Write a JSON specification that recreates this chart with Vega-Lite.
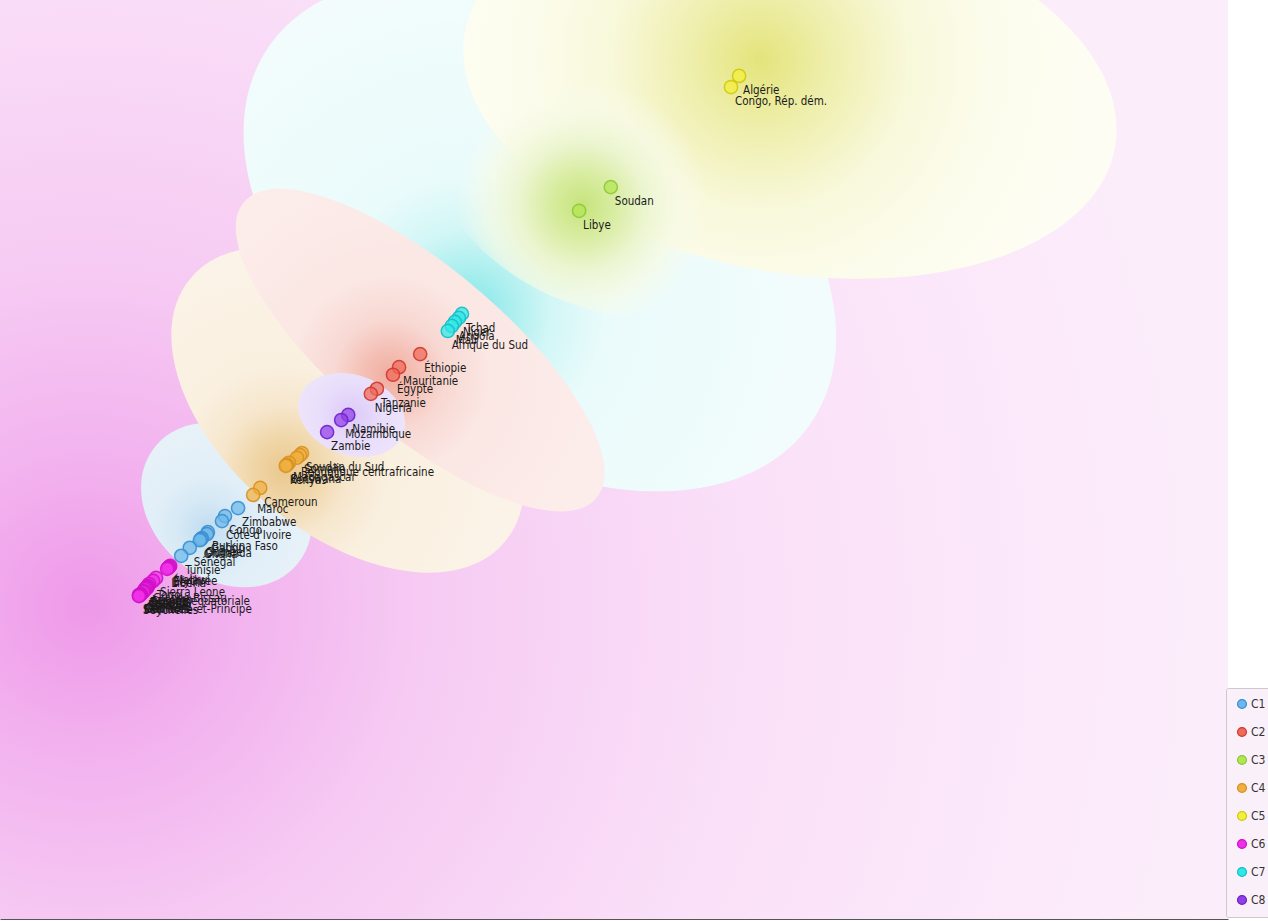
{
  "$schema": "https://vega.github.io/schema/vega-lite/v6.json",
  "width": 1228,
  "height": 919,
  "autosize": {"type": "none"},
  "padding": {"left": 0, "top": 0, "right": 40, "bottom": 2},
  "background": "white",
  "config": {"view": {"stroke": null}},
  "datasets": {
    "pts": [
      {"pays": "Algérie", "cluster": "C5", "x": 11.91, "y": 16.76},
      {"pays": "Congo, Rép. dém.", "cluster": "C5", "x": 11.75, "y": 16.54},
      {"pays": "Soudan", "cluster": "C3", "x": 9.36, "y": 14.55},
      {"pays": "Libye", "cluster": "C3", "x": 8.73, "y": 14.08},
      {"pays": "Tchad", "cluster": "C7", "x": 6.40, "y": 12.03},
      {"pays": "Niger", "cluster": "C7", "x": 6.34, "y": 11.95},
      {"pays": "Angola", "cluster": "C7", "x": 6.26, "y": 11.87},
      {"pays": "Mali", "cluster": "C7", "x": 6.20, "y": 11.79},
      {"pays": "Afrique du Sud", "cluster": "C7", "x": 6.12, "y": 11.69},
      {"pays": "Éthiopie", "cluster": "C2", "x": 5.57, "y": 11.23},
      {"pays": "Mauritanie", "cluster": "C2", "x": 5.15, "y": 10.97},
      {"pays": "Égypte", "cluster": "C2", "x": 5.03, "y": 10.82},
      {"pays": "Tanzanie", "cluster": "C2", "x": 4.71, "y": 10.54},
      {"pays": "Nigeria", "cluster": "C2", "x": 4.59, "y": 10.44},
      {"pays": "Namibie", "cluster": "C8", "x": 4.14, "y": 10.02},
      {"pays": "Mozambique", "cluster": "C8", "x": 4.00, "y": 9.92},
      {"pays": "Zambie", "cluster": "C8", "x": 3.72, "y": 9.68},
      {"pays": "Soudan du Sud", "cluster": "C4", "x": 3.22, "y": 9.26},
      {"pays": "Somalie", "cluster": "C4", "x": 3.18, "y": 9.22},
      {"pays": "République centrafricaine", "cluster": "C4", "x": 3.12, "y": 9.17},
      {"pays": "Madagascar", "cluster": "C4", "x": 2.96, "y": 9.07},
      {"pays": "Botswana", "cluster": "C4", "x": 2.92, "y": 9.03},
      {"pays": "Kenya", "cluster": "C4", "x": 2.90, "y": 9.01},
      {"pays": "Cameroun", "cluster": "C4", "x": 2.39, "y": 8.57},
      {"pays": "Maroc", "cluster": "C4", "x": 2.25, "y": 8.43},
      {"pays": "Zimbabwe", "cluster": "C1", "x": 1.95, "y": 8.17},
      {"pays": "Congo", "cluster": "C1", "x": 1.69, "y": 8.01},
      {"pays": "Côte d'Ivoire", "cluster": "C1", "x": 1.63, "y": 7.91},
      {"pays": "Burkina Faso", "cluster": "C1", "x": 1.35, "y": 7.69},
      {"pays": "Gabon", "cluster": "C1", "x": 1.33, "y": 7.65},
      {"pays": "Guinée", "cluster": "C1", "x": 1.23, "y": 7.57},
      {"pays": "Ouganda", "cluster": "C1", "x": 1.21, "y": 7.55},
      {"pays": "Ghana", "cluster": "C1", "x": 1.19, "y": 7.53},
      {"pays": "Sénégal", "cluster": "C1", "x": 0.99, "y": 7.38},
      {"pays": "Tunisie", "cluster": "C1", "x": 0.82, "y": 7.22},
      {"pays": "Malawi", "cluster": "C6", "x": 0.60, "y": 7.02},
      {"pays": "Érythrée", "cluster": "C6", "x": 0.58, "y": 7.00},
      {"pays": "Bénin", "cluster": "C6", "x": 0.56, "y": 6.98},
      {"pays": "Libéria", "cluster": "C6", "x": 0.54, "y": 6.96},
      {"pays": "Sierra Leone", "cluster": "C6", "x": 0.32, "y": 6.78},
      {"pays": "Togo", "cluster": "C6", "x": 0.26, "y": 6.72},
      {"pays": "Guinée-Bissau", "cluster": "C6", "x": 0.18, "y": 6.66},
      {"pays": "Lesotho", "cluster": "C6", "x": 0.16, "y": 6.62},
      {"pays": "Guinée équatoriale", "cluster": "C6", "x": 0.14, "y": 6.60},
      {"pays": "Burundi", "cluster": "C6", "x": 0.14, "y": 6.58},
      {"pays": "Rwanda", "cluster": "C6", "x": 0.12, "y": 6.58},
      {"pays": "Djibouti", "cluster": "C6", "x": 0.10, "y": 6.56},
      {"pays": "Eswatini", "cluster": "C6", "x": 0.08, "y": 6.52},
      {"pays": "Gambie", "cluster": "C6", "x": 0.06, "y": 6.50},
      {"pays": "Cap-Vert", "cluster": "C6", "x": 0.02, "y": 6.46},
      {"pays": "Comores", "cluster": "C6", "x": 0.00, "y": 6.44},
      {"pays": "Maurice", "cluster": "C6", "x": 0.00, "y": 6.44},
      {"pays": "Sao Tomé-et-Principe", "cluster": "C6", "x": -0.02, "y": 6.44},
      {"pays": "Seychelles", "cluster": "C6", "x": -0.02, "y": 6.42}
    ],
    "regions": [
      {"cluster": "C7", "x": 7.95, "y": 13.60},
      {"cluster": "C5", "x": 12.92, "y": 16.48},
      {"cluster": "C3", "x": 9.34, "y": 14.39},
      {"cluster": "C1", "x": 1.72, "y": 8.23},
      {"cluster": "C4", "x": 4.13, "y": 10.12},
      {"cluster": "C2", "x": 5.57, "y": 11.31},
      {"cluster": "C8", "x": 4.21, "y": 10.02}
    ]
  },
  "resolve": {"axis": {"x": "independent"}},
  "layer": [
    {
      "data": {"values": [{"bg": 1}]},
      "mark": {
        "type": "rect",
        "fill": {
          "gradient": "radial",
          "x1": 0.07, "y1": 0.62, "r1": 0,
          "x2": 0.07, "y2": 0.62, "r2": 0.9,
          "stops": [
            {"offset": 0, "color": "#ef98e9"},
            {"offset": 0.12, "color": "#f2b0ee"},
            {"offset": 0.3, "color": "#f6caf3"},
            {"offset": 0.6, "color": "#fae0f8"},
            {"offset": 1, "color": "#fcedfb"}
          ]
        }
      },
      "encoding": {
        "x": {"value": 0}, "x2": {"value": "width"},
        "y": {"value": 0}, "y2": {"value": "height"}
      }
    },
    {
      "data": {"name": "regions"},
      "transform": [{"filter": "datum.cluster === 'C7'"}],
      "mark": {
        "type": "point", "filled": true, "clip": true, "opacity": 1, "strokeWidth": 0,
        "size": 435600,
        "shape": "M 0.8192 0.5736 A 1 0.64 35 1 1 -0.8192 -0.5736 A 1 0.64 35 1 1 0.8192 0.5736 Z",
        "fill": {
          "gradient": "radial",
          "x1": 0.38, "y1": 0.63, "r1": 0,
          "x2": 0.38, "y2": 0.63, "r2": 0.55,
          "stops": [
            {"offset": 0, "color": "#80e6e8"},
            {"offset": 0.12, "color": "#a8eeee"},
            {"offset": 0.25, "color": "#d2f6f6"},
            {"offset": 0.42, "color": "#eafbfb"},
            {"offset": 1, "color": "#f2fcfc"}
          ]
        }
      },
      "encoding": {
        "x": {"field": "x", "type": "quantitative", "scale": {"domain": [-2.783, 21.63], "nice": false, "zero": false}, "axis": null},
        "y": {"field": "y", "type": "quantitative", "scale": {"domain": [0, 18.27], "nice": false, "zero": false}, "axis": null}
      }
    },
    {
      "data": {"name": "regions"},
      "transform": [{"filter": "datum.cluster === 'C5'"}],
      "mark": {
        "type": "point", "filled": true, "clip": true, "opacity": 1, "strokeWidth": 0,
        "size": 435600,
        "shape": "M 0.9848 0.1736 A 1 0.55 10 1 1 -0.9848 -0.1736 A 1 0.55 10 1 1 0.9848 0.1736 Z",
        "fill": {
          "gradient": "radial",
          "x1": 0.454, "y1": 0.454, "r1": 0,
          "x2": 0.454, "y2": 0.454, "r2": 0.5,
          "stops": [
            {"offset": 0, "color": "#e4e47c"},
            {"offset": 0.2, "color": "#eeeeaa"},
            {"offset": 0.45, "color": "#f8f8da"},
            {"offset": 0.7, "color": "#fcfcec"},
            {"offset": 1, "color": "#fdfdf3"}
          ]
        }
      },
      "encoding": {
        "x": {"field": "x", "type": "quantitative", "scale": {"domain": [-2.783, 21.63], "nice": false, "zero": false}, "axis": null},
        "y": {"field": "y", "type": "quantitative", "scale": {"domain": [0, 18.27], "nice": false, "zero": false}, "axis": null}
      }
    },
    {
      "data": {"name": "regions"},
      "transform": [{"filter": "datum.cluster === 'C3'"}],
      "mark": {
        "type": "point", "filled": true, "clip": true, "opacity": 1, "strokeWidth": 0,
        "size": 129600,
        "shape": "M 0.9397 0.3420 A 1 0.64 20 1 1 -0.9397 -0.3420 A 1 0.64 20 1 1 0.9397 0.3420 Z",
        "fill": {
          "gradient": "radial",
          "x1": 0.42, "y1": 0.53, "r1": 0,
          "x2": 0.42, "y2": 0.53, "r2": 0.6,
          "stops": [
            {"offset": 0, "color": "#c6e47c"},
            {"offset": 0.15, "color": "#d8eca0"},
            {"offset": 0.3, "color": "#ebf5cf"},
            {"offset": 0.45, "color": "rgba(246,250,228,0.7)"},
            {"offset": 0.6, "color": "rgba(250,252,236,0)"}
          ]
        }
      },
      "encoding": {
        "x": {"field": "x", "type": "quantitative", "scale": {"domain": [-2.783, 21.63], "nice": false, "zero": false}, "axis": null},
        "y": {"field": "y", "type": "quantitative", "scale": {"domain": [0, 18.27], "nice": false, "zero": false}, "axis": null}
      }
    },
    {
      "data": {"name": "regions"},
      "transform": [{"filter": "datum.cluster === 'C1'"}],
      "mark": {
        "type": "point", "filled": true, "clip": true, "opacity": 1, "strokeWidth": 0,
        "size": 34000,
        "shape": "M 0.7660 0.6428 A 1 0.8 40 1 1 -0.7660 -0.6428 A 1 0.8 40 1 1 0.7660 0.6428 Z",
        "fill": {
          "gradient": "radial",
          "x1": 0.39, "y1": 0.64, "r1": 0,
          "x2": 0.39, "y2": 0.64, "r2": 0.6,
          "stops": [
            {"offset": 0, "color": "#c0ddf0"},
            {"offset": 0.3, "color": "#d6e9f5"},
            {"offset": 0.55, "color": "#e2eff8"},
            {"offset": 1, "color": "#e7f1f8"}
          ]
        }
      },
      "encoding": {
        "x": {"field": "x", "type": "quantitative", "scale": {"domain": [-2.783, 21.63], "nice": false, "zero": false}, "axis": null},
        "y": {"field": "y", "type": "quantitative", "scale": {"domain": [0, 18.27], "nice": false, "zero": false}, "axis": null}
      }
    },
    {
      "data": {"name": "regions"},
      "transform": [{"filter": "datum.cluster === 'C4'"}],
      "mark": {
        "type": "point", "filled": true, "clip": true, "opacity": 1, "strokeWidth": 0,
        "size": 168100,
        "shape": "M 0.7660 0.6428 A 1 0.6 40 1 1 -0.7660 -0.6428 A 1 0.6 40 1 1 0.7660 0.6428 Z",
        "fill": {
          "gradient": "radial",
          "x1": 0.32, "y1": 0.67, "r1": 0,
          "x2": 0.32, "y2": 0.67, "r2": 0.6,
          "stops": [
            {"offset": 0, "color": "#eac88e"},
            {"offset": 0.15, "color": "#f0d6a8"},
            {"offset": 0.3, "color": "#f6e6cc"},
            {"offset": 0.5, "color": "#faf0e0"},
            {"offset": 1, "color": "#fbf3e7"}
          ]
        }
      },
      "encoding": {
        "x": {"field": "x", "type": "quantitative", "scale": {"domain": [-2.783, 21.63], "nice": false, "zero": false}, "axis": null},
        "y": {"field": "y", "type": "quantitative", "scale": {"domain": [0, 18.27], "nice": false, "zero": false}, "axis": null}
      }
    },
    {
      "data": {"name": "regions"},
      "transform": [{"filter": "datum.cluster === 'C2'"}],
      "mark": {
        "type": "point", "filled": true, "clip": true, "opacity": 1, "strokeWidth": 0,
        "size": 211600,
        "shape": "M 0.7660 0.6428 A 1 0.36 40 1 1 -0.7660 -0.6428 A 1 0.36 40 1 1 0.7660 0.6428 Z",
        "fill": {
          "gradient": "radial",
          "x1": 0.418, "y1": 0.568, "r1": 0,
          "x2": 0.418, "y2": 0.568, "r2": 0.6,
          "stops": [
            {"offset": 0, "color": "#f1ac9f"},
            {"offset": 0.12, "color": "#f4c0b6"},
            {"offset": 0.25, "color": "#f8d8d2"},
            {"offset": 0.45, "color": "#fbe7e4"},
            {"offset": 1, "color": "#fcedeb"}
          ]
        }
      },
      "encoding": {
        "x": {"field": "x", "type": "quantitative", "scale": {"domain": [-2.783, 21.63], "nice": false, "zero": false}, "axis": null},
        "y": {"field": "y", "type": "quantitative", "scale": {"domain": [0, 18.27], "nice": false, "zero": false}, "axis": null}
      }
    },
    {
      "data": {"name": "regions"},
      "transform": [{"filter": "datum.cluster === 'C8'"}],
      "mark": {
        "type": "point", "filled": true, "clip": true, "opacity": 1, "strokeWidth": 0,
        "size": 12100,
        "shape": "M 0.9397 0.3420 A 1 0.727 20 1 1 -0.9397 -0.3420 A 1 0.727 20 1 1 0.9397 0.3420 Z",
        "fill": {
          "gradient": "radial",
          "x1": 0.5, "y1": 0.5, "r1": 0,
          "x2": 0.5, "y2": 0.5, "r2": 0.6,
          "stops": [
            {"offset": 0, "color": "#dccaf8"},
            {"offset": 0.5, "color": "#e9defb"},
            {"offset": 1, "color": "#efe7fb"}
          ]
        }
      },
      "encoding": {
        "x": {"field": "x", "type": "quantitative", "scale": {"domain": [-2.783, 21.63], "nice": false, "zero": false}, "axis": {"orient": "bottom", "values": [5, 15], "tickSize": -4, "tickColor": "#555", "domain": false, "labels": false, "grid": false, "title": null}},
        "y": {"field": "y", "type": "quantitative", "scale": {"domain": [0, 18.27], "nice": false, "zero": false}, "axis": null}
      }
    },
    {
      "data": {"name": "pts"},
      "mark": {"type": "point", "filled": true, "size": 175, "fillOpacity": 0.72, "strokeWidth": 1.5, "strokeOpacity": 0.9},
      "encoding": {
        "x": {"field": "x", "type": "quantitative", "scale": {"domain": [-2.783, 21.63], "nice": false, "zero": false}, "axis": {"orient": "bottom", "values": [0, 10, 20], "tickSize": -7, "tickColor": "#333", "tickWidth": 1, "domain": true, "domainColor": "#555", "domainWidth": 1, "labels": false, "grid": false, "title": null}},
        "y": {"field": "y", "type": "quantitative", "scale": {"domain": [0, 18.27], "nice": false, "zero": false}, "axis": null},
        "fill": {
          "field": "cluster", "type": "nominal",
          "scale": {"domain": ["C1", "C2", "C3", "C4", "C5", "C6", "C7", "C8"], "range": ["#6cb8ea", "#ee6a5a", "#b2e650", "#f0b040", "#f4f03a", "#f030e8", "#30e8e8", "#9040e8"]},
          "legend": {
            "title": null, "orient": "none", "legendX": 1226, "legendY": 688,
            "symbolType": "circle", "symbolSize": 80, "symbolStrokeWidth": 1.2, "symbolFillOpacity": 0.72,
            "labelFont": "DejaVu Sans Condensed", "labelFontSize": 12, "labelColor": "#333", "labelOffset": 3,
            "rowPadding": 14, "padding": 10, "fillColor": "#faf0f9", "strokeColor": "#cfc8cf", "cornerRadius": 2
          }
        },
        "stroke": {
          "field": "cluster", "type": "nominal",
          "scale": {"domain": ["C1", "C2", "C3", "C4", "C5", "C6", "C7", "C8"], "range": ["#3a8fd0", "#d03a2a", "#8cc83a", "#d89020", "#d0c810", "#d010c8", "#10c0c8", "#7020c8"]},
          "legend": {
            "title": null, "orient": "none", "legendX": 1226, "legendY": 688,
            "symbolType": "circle", "symbolSize": 80, "symbolStrokeWidth": 1.2, "symbolFillOpacity": 0.72,
            "labelFont": "DejaVu Sans Condensed", "labelFontSize": 12, "labelColor": "#333", "labelOffset": 3,
            "rowPadding": 14, "padding": 10, "fillColor": "#faf0f9", "strokeColor": "#cfc8cf", "cornerRadius": 2
          }
        }
      }
    },
    {
      "data": {"name": "pts"},
      "mark": {"type": "text", "align": "left", "baseline": "middle", "dx": 4, "dy": 15, "font": "DejaVu Sans Condensed", "fontSize": 11.5, "color": "#1a1a1a"},
      "encoding": {
        "x": {"field": "x", "type": "quantitative", "scale": {"domain": [-2.783, 21.63], "nice": false, "zero": false}, "axis": {"orient": "bottom", "values": [-2, -1, 1, 2, 3, 4, 6, 7, 8, 9, 11, 12, 13, 14, 16, 17, 18, 19, 21], "tickSize": -2, "tickColor": "#666", "domain": false, "labels": false, "grid": false, "title": null}},
        "y": {"field": "y", "type": "quantitative", "scale": {"domain": [0, 18.27], "nice": false, "zero": false}, "axis": null},
        "text": {"field": "pays", "type": "nominal"}
      }
    }
  ]
}
